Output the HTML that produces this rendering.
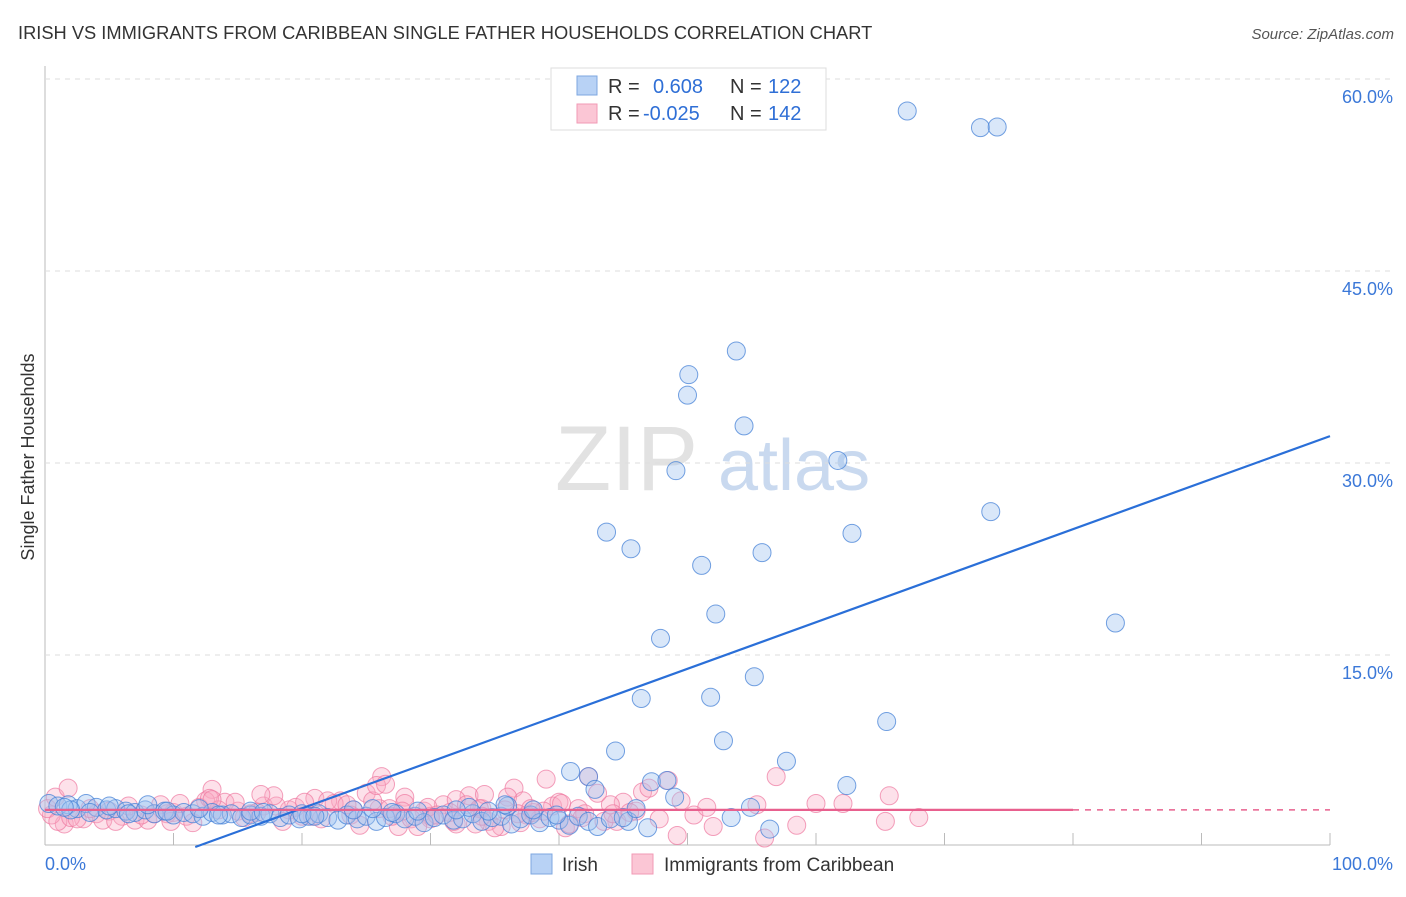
<!DOCTYPE html>
<html><head><meta charset="utf-8">
<style>
body{margin:0;background:#fff;font-family:"Liberation Sans",sans-serif;}
svg text{font-family:"Liberation Sans",sans-serif;}
</style></head>
<body>
<svg id="chart" width="1406" height="892" xmlns="http://www.w3.org/2000/svg">
<text x="18" y="39" font-size="18.3" fill="#333">IRISH VS IMMIGRANTS FROM CARIBBEAN SINGLE FATHER HOUSEHOLDS CORRELATION CHART</text>
<text x="1394" y="39" font-size="15" fill="#555" font-style="italic" text-anchor="end">Source: ZipAtlas.com</text>
<text x="34" y="457" font-size="18" fill="#333" text-anchor="middle" transform="rotate(-90 34 457)">Single Father Households</text>
<g><text x="555" y="490" font-size="92" fill="#e2e2e2" font-family="Liberation Serif">ZIP</text><text x="718" y="490" font-size="72" fill="#c9d9ef">atlas</text></g>
<g id="grid"></g><g id="pts"></g><g id="lines"></g>
<g>
<rect x="551" y="68" width="275" height="62" fill="#fff" stroke="#ddd"/>
<rect x="577" y="76" width="20" height="19" fill="#b8d2f5" stroke="#7ea7e0"/>
<rect x="577" y="104" width="20" height="19" fill="#fbc6d5" stroke="#f19ab5"/>
<text x="608" y="93" font-size="20" fill="#333">R = </text><text x="653" y="93" font-size="20" fill="#2f6fd6">0.608</text>
<text x="730" y="93" font-size="20" fill="#333">N = </text><text x="768" y="93" font-size="20" fill="#2f6fd6">122</text>
<text x="608" y="120" font-size="20" fill="#333">R = </text><text x="643" y="120" font-size="20" fill="#2f6fd6">-0.025</text>
<text x="730" y="120" font-size="20" fill="#333">N = </text><text x="768" y="120" font-size="20" fill="#2f6fd6">142</text>
</g>
<g>
<rect x="531" y="854" width="21" height="20" fill="#b8d2f5" stroke="#7ea7e0"/>
<text x="562" y="871" font-size="19" fill="#333">Irish</text>
<rect x="632" y="854" width="21" height="20" fill="#fbc6d5" stroke="#f19ab5"/>
<text x="664" y="871" font-size="19" fill="#333">Immigrants from Caribbean</text>
</g>
</svg>
<script>
const yTicks=[15,30,45,60];
const yTickLabels=["15.0%","30.0%","45.0%","60.0%"];
const xEndLabels=["0.0%","100.0%"];
const irishX=[67.1,72.8,74.1,53.8,50.1,50.0,54.4,61.7,49.1,73.6,43.7,62.8,45.6,55.8,51.1,52.2,83.3,47.9,55.2,46.4,51.8,65.5,52.8,44.4,57.7,40.9,42.3,42.8,47.2,48.4,49.0,62.4,54.9,53.4,56.4,45.4,46.9,
0.3,1,1.8,2.5,3.2,4,4.8,5.5,6.3,7,7.8,8.5,9.3,10,10.8,11.5,12.3,13,13.8,14.5,15.3,16,16.8,17.5,18.3,19,19.8,20.5,21.3,22,22.8,23.5,24.3,25,25.8,26.5,27.3,28,28.8,29.5,30.3,31,31.8,32.5,33.3,34,34.8,35.5,36.3,37,37.8,38.5,39.3,40,40.8,41.5,42.3,43,44,45,46,38,36,34.5,33,27,24,20,16,12,8,5,2,1.5,3.5,6.5,9.5,13.5,17,21,25.5,29,32,35.8,39.8,41.2];
const irishY=[57.5,56.2,56.25,38.75,36.9,35.3,32.9,30.2,29.4,26.2,24.6,24.5,23.3,23.0,22.0,18.2,17.5,16.3,13.3,11.6,11.7,9.8,8.3,7.5,6.7,5.9,5.5,4.5,5.1,5.2,3.9,4.8,3.1,2.3,1.4,2.0,1.5,
3.4,3.2,3.3,3.0,3.4,3.1,2.9,3.0,2.8,2.7,2.9,2.6,2.8,2.5,2.7,2.6,2.4,2.7,2.5,2.6,2.3,2.5,2.4,2.6,2.3,2.5,2.2,2.4,2.6,2.3,2.1,2.5,2.2,2.4,2.0,2.3,2.6,2.2,2.4,1.9,2.3,2.5,2.1,2.2,2.6,2.0,2.3,2.4,1.8,2.2,2.5,1.9,2.3,2.1,1.7,2.4,2.0,1.6,2.2,2.3,3.0,2.9,3.2,2.8,3.1,2.7,2.9,2.6,2.8,3.0,3.3,3.2,2.9,3.1,2.7,2.6,2.8,2.5,2.7,2.4,3.0,2.8,2.9,3.3,2.5];
const caribX=[26.2,56.9,65.7,62.1,68.0,65.4,58.5,52.0,49.2,56.0,48.5,46.5,42.3,55.4,50.5,44.5,40.5,38.5,35.5,33,31,29.5,28,36.5,45,47,41.5,39.5,37.5,34.5,32,30,27.5,25,23,21,19,17,15,13,12.5,11,9,7,5,3,1.5,0.5,0.2,1,2,4,6,8,10,12,14,16,18,20,22,24,26,28,30,32,34,36,38,40,42,44,46,3.5,6.5,9.5,10.5,12.8,13.5,14.8,16.5,17.8,19.5,20.8,22.5,23.8,25.5,26.8,28.5,29.8,31.5,32.8,34.2,35.8,37.2,38.8,40.2,41.8,43.5,45.5,4.5,7.5,11.5,15.5,18.5,21.5,24.5,27,29,31.8,33.5,35,37,39,43,25.8,30.5,27.8,2.5,5.5,8.5,0.8,1.8,13,16.8,20.2,23.5,26.5,33.8,36.8,34,37.8,40.8,44.2,47.8,49.5,51.5,60,9.8,14.2,18.8,22.2];
const caribY=[5.5,5.5,4.0,3.4,2.3,2.0,1.7,1.6,0.9,0.7,5.2,4.3,5.5,3.3,2.5,2.0,1.5,2.2,1.6,4.0,3.3,2.8,3.9,4.6,3.5,4.6,3.0,3.2,2.5,2.0,1.8,2.4,1.6,4.2,3.6,3.8,2.9,3.2,2.8,4.5,3.6,2.4,3.3,2.1,2.8,2.2,1.8,2.5,3.0,2.0,2.3,2.6,2.4,2.1,2.7,3.1,3.5,2.6,3.2,2.4,3.6,2.9,3.0,3.4,2.2,3.7,3.0,3.9,2.7,3.5,2.6,3.3,2.8,3.0,3.2,2.6,3.4,3.8,2.9,3.5,2.7,4.0,3.1,2.4,3.4,2.5,3.6,3.0,2.2,3.1,2.7,3.3,4.1,2.9,3.6,2.8,3.4,2.3,2.0,2.7,2.1,2.5,1.9,2.3,2.0,2.2,1.7,2.4,1.6,2.0,1.8,1.5,1.9,5.3,4.2,4.8,2.5,2.8,2.2,2.0,2.6,3.9,4.6,3.7,4.1,3.5,3.3,4.9,3.0,2.6,2.4,3.0,1.8,2.6,2.2,3.6,3.1,3.4,2.0];
const irishTrend=[0.3635,-4.25];
const caribTrend=[0.0,2.9];
const X0=45,X1=1330,Y0=847,PX=12.8;
const sx=v=>X0+(X1-X0)*v/100, sy=v=>Y0-v*PX;
const NS="http://www.w3.org/2000/svg";
function mk(tag,attrs,parent){const e=document.createElementNS(NS,tag);for(const k in attrs)e.setAttribute(k,attrs[k]);parent.appendChild(e);return e;}
const grid=document.getElementById('grid');
mk('line',{x1:X0,y1:66,x2:X0,y2:845,stroke:'#bbb'},grid);
mk('line',{x1:X0,y1:845,x2:X1,y2:845,stroke:'#bbb'},grid);
yTicks.forEach((t,i)=>{
 const g=mk('line',{x1:X0,y1:sy(t),x2:1394,y2:sy(t),stroke:'#ddd','stroke-dasharray':'5,5'},grid);
 
 
 const tx=mk('text',{x:1393,y:sy(t)+24,'font-size':18,fill:'#3b78d8','text-anchor':'end'},grid);
 tx.textContent=yTickLabels[i];
 
 
});
for(let i=1;i<=10;i++){const tk=mk('line',{x1:sx(i*10),y1:833,x2:sx(i*10),y2:845,stroke:'#bbb'},grid);
 
 }
const l0=mk('text',{x:45,y:870,'font-size':18,fill:'#3b78d8'},grid);l0.textContent=xEndLabels[0];


const l1=mk('text',{x:1393,y:870,'font-size':18,fill:'#3b78d8','text-anchor':'end'},grid);l1.textContent=xEndLabels[1];


const pts=document.getElementById('pts');
const nC=Math.min(caribX.length,caribY.length), nI=Math.min(irishX.length,irishY.length);
for(let i=0;i<nC;i++){const c=mk('circle',{cx:sx(caribX[i]),cy:sy(caribY[i]),r:9,fill:'rgba(248,170,195,0.35)',stroke:'rgba(238,120,160,0.7)','stroke-width':1},pts);
 
 }
for(let i=0;i<nI;i++){const c=mk('circle',{cx:sx(irishX[i]),cy:sy(irishY[i]),r:9,fill:'rgba(160,196,240,0.4)',stroke:'rgba(70,130,215,0.75)','stroke-width':1},pts);
 
 }
const lines=document.getElementById('lines');
const xs=-irishTrend[1]/irishTrend[0];
const tl=mk('line',{x1:sx(xs),y1:sy(0),x2:sx(100),y2:sy(irishTrend[0]*100+irishTrend[1]),stroke:'#2a6fd8','stroke-width':2.2},lines);


const pl=mk('line',{x1:sx(0),y1:sy(caribTrend[1]),x2:sx(80),y2:sy(caribTrend[0]*80+caribTrend[1]),stroke:'#e8608e','stroke-width':2.2},lines);


const pd=mk('line',{x1:sx(80),y1:sy(caribTrend[0]*80+caribTrend[1]),x2:sx(100),y2:sy(caribTrend[0]*100+caribTrend[1]),stroke:'#e8608e','stroke-width':1.5,'stroke-dasharray':'6,6'},lines);


</script>
</body></html>
